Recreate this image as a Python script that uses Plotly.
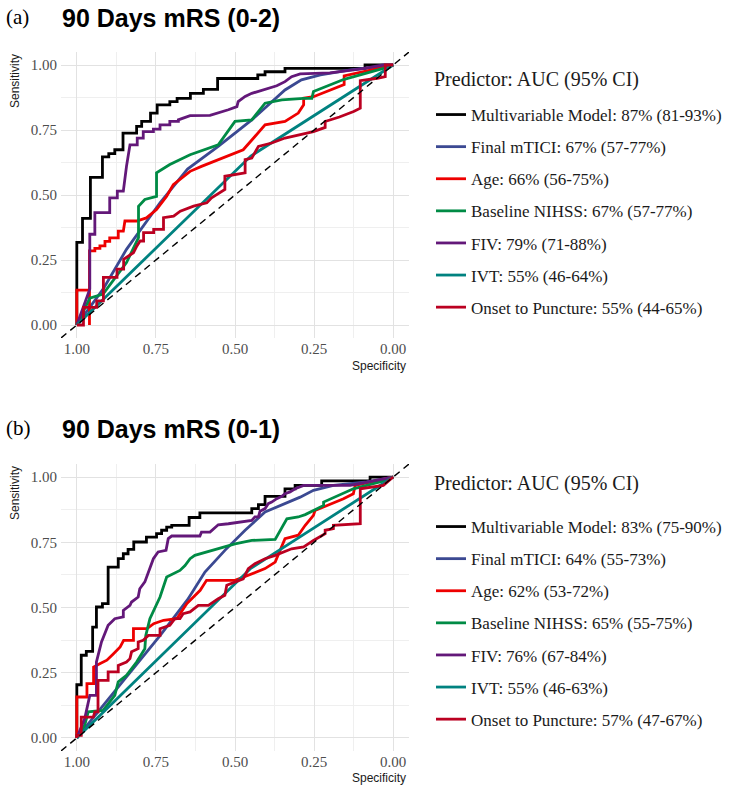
import plotly.graph_objects as go

# Predictors and legend labels
predictors = ["Multivariable Model", "Final mTICI", "Age", "Baseline NIHSS", "FIV", "IVT", "Onset to Puncture"]
a_auc_labels = ["87% (81-93%)", "67% (57-77%)", "66% (56-75%)", "67% (57-77%)", "79% (71-88%)", "55% (46-64%)", "55% (44-65%)"]
b_auc_labels = ["83% (75-90%)", "64% (55-73%)", "62% (53-72%)", "65% (55-75%)", "76% (67-84%)", "55% (46-63%)", "57% (47-67%)"]
colors = ["#000000", "#3B4992", "#EE0000", "#008B45", "#631879", "#008280", "#BB0021"]
line_shapes = ["vh", "linear", "linear", "linear", "linear", "linear", "linear"]

tick_vals = [0, 0.25, 0.5, 0.75, 1]
tick_text = ["0.00", "0.25", "0.50", "0.75", "1.00"]

# ---- (a) 90 Days mRS (0-2): specificity / sensitivity ----
a_model_spec = [1.0, 0.982, 0.957, 0.919, 0.899, 0.880, 0.854, 0.811, 0.795, 0.767, 0.746, 0.706, 0.683, 0.641, 0.600, 0.555, 0.428, 0.405, 0.342, 0.089, 0.0]
a_model_sens = [0.0, 0.318, 0.410, 0.568, 0.647, 0.659, 0.674, 0.738, 0.764, 0.783, 0.815, 0.847, 0.859, 0.872, 0.891, 0.906, 0.948, 0.962, 0.974, 0.987, 1.0]

a_tici_spec = [1.0, 0.917, 0.843, 0.737, 0.650, 0.553, 0.447, 0.342, 0.290, 0.230, 0.135, 0.051, 0.0]
a_tici_sens = [0.0, 0.138, 0.291, 0.470, 0.600, 0.687, 0.789, 0.904, 0.943, 0.962, 0.981, 0.994, 1.0]

a_age_spec = [1.0, 1.0, 0.960, 0.960, 0.960, 0.943, 0.943, 0.927, 0.927, 0.911, 0.911, 0.896, 0.896, 0.869, 0.869, 0.853, 0.848, 0.811, 0.780, 0.748, 0.716, 0.695, 0.669, 0.642, 0.606, 0.553, 0.474, 0.437, 0.405, 0.342, 0.300, 0.283, 0.283, 0.252, 0.155, 0.155, 0.050, 0.0]
a_age_sens = [0.0, 0.134, 0.134, 0.0, 0.285, 0.285, 0.295, 0.295, 0.304, 0.304, 0.322, 0.322, 0.335, 0.335, 0.361, 0.361, 0.400, 0.400, 0.412, 0.444, 0.495, 0.540, 0.566, 0.591, 0.610, 0.636, 0.674, 0.725, 0.770, 0.783, 0.815, 0.847, 0.872, 0.878, 0.925, 0.958, 0.985, 1.0]

a_nihss_spec = [1.0, 0.980, 0.959, 0.917, 0.890, 0.843, 0.805, 0.805, 0.785, 0.748, 0.748, 0.706, 0.642, 0.553, 0.500, 0.447, 0.405, 0.352, 0.283, 0.257, 0.252, 0.155, 0.031, 0.0]
a_nihss_sens = [0.0, 0.049, 0.103, 0.119, 0.163, 0.240, 0.336, 0.457, 0.483, 0.495, 0.585, 0.617, 0.655, 0.693, 0.783, 0.789, 0.853, 0.866, 0.872, 0.872, 0.898, 0.945, 0.987, 1.0]

a_fiv_spec = [1.0, 0.959, 0.959, 0.943, 0.943, 0.896, 0.896, 0.872, 0.872, 0.853, 0.843, 0.832, 0.809, 0.809, 0.790, 0.790, 0.758, 0.758, 0.737, 0.737, 0.706, 0.706, 0.679, 0.679, 0.642, 0.579, 0.521, 0.494, 0.490, 0.468, 0.447, 0.426, 0.395, 0.368, 0.342, 0.321, 0.294, 0.200, 0.100, 0.032, 0.0]
a_fiv_sens = [0.0, 0.138, 0.349, 0.349, 0.432, 0.432, 0.489, 0.489, 0.515, 0.515, 0.610, 0.693, 0.693, 0.719, 0.719, 0.744, 0.744, 0.753, 0.753, 0.770, 0.770, 0.783, 0.783, 0.789, 0.805, 0.806, 0.828, 0.840, 0.859, 0.879, 0.891, 0.898, 0.910, 0.920, 0.936, 0.955, 0.966, 0.970, 0.985, 1.0, 1.0]

a_ivt_spec = [1.0, 0.45, 0.0]
a_ivt_sens = [0.0, 0.65, 1.0]

a_onset_spec = [1.0, 0.979, 0.979, 0.937, 0.937, 0.916, 0.916, 0.873, 0.873, 0.852, 0.852, 0.821, 0.810, 0.800, 0.789, 0.789, 0.757, 0.757, 0.726, 0.726, 0.694, 0.673, 0.631, 0.589, 0.574, 0.532, 0.532, 0.500, 0.468, 0.468, 0.447, 0.426, 0.384, 0.342, 0.294, 0.252, 0.215, 0.215, 0.170, 0.125, 0.104, 0.104, 0.050, 0.025, 0.025, 0.0]
a_onset_sens = [0.0, 0.0, 0.068, 0.068, 0.093, 0.093, 0.183, 0.183, 0.215, 0.215, 0.253, 0.278, 0.304, 0.323, 0.323, 0.355, 0.355, 0.368, 0.368, 0.413, 0.419, 0.438, 0.457, 0.470, 0.489, 0.521, 0.572, 0.579, 0.585, 0.636, 0.642, 0.687, 0.700, 0.719, 0.732, 0.744, 0.760, 0.783, 0.800, 0.821, 0.834, 0.940, 0.949, 0.955, 1.0, 1.0]

# ---- (b) 90 Days mRS (0-1) ----
b_model_spec = [1.0, 0.986, 0.970, 0.950, 0.938, 0.919, 0.901, 0.869, 0.853, 0.838, 0.820, 0.780, 0.748, 0.732, 0.716, 0.700, 0.645, 0.611, 0.447, 0.426, 0.405, 0.342, 0.310, 0.226, 0.073, 0.0]
b_model_sens = [0.0, 0.204, 0.317, 0.332, 0.425, 0.502, 0.515, 0.655, 0.687, 0.706, 0.723, 0.751, 0.770, 0.783, 0.796, 0.808, 0.815, 0.845, 0.863, 0.879, 0.894, 0.926, 0.955, 0.968, 0.985, 1.0]

b_tici_spec = [1.0, 0.843, 0.737, 0.650, 0.595, 0.532, 0.468, 0.405, 0.294, 0.252, 0.189, 0.083, 0.0]
b_tici_sens = [0.0, 0.236, 0.392, 0.530, 0.636, 0.719, 0.796, 0.866, 0.923, 0.949, 0.968, 0.981, 1.0]

b_age_spec = [1.0, 1.0, 0.968, 0.968, 0.947, 0.947, 0.926, 0.905, 0.884, 0.863, 0.852, 0.821, 0.821, 0.778, 0.757, 0.726, 0.684, 0.652, 0.610, 0.590, 0.500, 0.474, 0.447, 0.405, 0.373, 0.342, 0.300, 0.278, 0.252, 0.247, 0.157, 0.126, 0.120, 0.030, 0.0]
b_age_sens = [0.0, 0.157, 0.157, 0.208, 0.208, 0.272, 0.285, 0.298, 0.323, 0.349, 0.374, 0.374, 0.419, 0.419, 0.438, 0.451, 0.457, 0.515, 0.566, 0.604, 0.604, 0.617, 0.630, 0.649, 0.674, 0.764, 0.777, 0.815, 0.853, 0.872, 0.917, 0.936, 0.968, 0.993, 1.0]

b_nihss_spec = [1.0, 0.975, 0.964, 0.917, 0.880, 0.869, 0.843, 0.811, 0.785, 0.782, 0.769, 0.748, 0.737, 0.716, 0.674, 0.658, 0.642, 0.627, 0.553, 0.500, 0.447, 0.373, 0.336, 0.300, 0.278, 0.220, 0.220, 0.126, 0.030, 0.0]
b_nihss_sens = [0.0, 0.049, 0.100, 0.106, 0.163, 0.215, 0.240, 0.291, 0.342, 0.393, 0.457, 0.508, 0.540, 0.617, 0.642, 0.661, 0.687, 0.700, 0.725, 0.744, 0.757, 0.761, 0.840, 0.847, 0.856, 0.891, 0.904, 0.955, 0.985, 1.0]

b_fiv_spec = [1.0, 0.975, 0.959, 0.938, 0.938, 0.922, 0.901, 0.880, 0.853, 0.853, 0.832, 0.827, 0.806, 0.801, 0.785, 0.774, 0.764, 0.758, 0.743, 0.718, 0.711, 0.700, 0.611, 0.606, 0.579, 0.553, 0.521, 0.479, 0.447, 0.437, 0.426, 0.421, 0.405, 0.395, 0.384, 0.368, 0.352, 0.342, 0.326, 0.310, 0.283, 0.136, 0.060, 0.0]
b_fiv_sens = [0.0, 0.074, 0.163, 0.163, 0.291, 0.368, 0.432, 0.457, 0.464, 0.489, 0.508, 0.521, 0.540, 0.572, 0.598, 0.636, 0.668, 0.687, 0.713, 0.719, 0.764, 0.774, 0.774, 0.789, 0.789, 0.817, 0.821, 0.828, 0.834, 0.847, 0.847, 0.869, 0.879, 0.898, 0.904, 0.917, 0.926, 0.936, 0.943, 0.955, 0.968, 0.968, 0.985, 1.0]

b_ivt_spec = [1.0, 0.45, 0.0]
b_ivt_sens = [0.0, 0.65, 1.0]

b_onset_spec = [1.0, 1.0, 0.986, 0.986, 0.948, 0.943, 0.933, 0.933, 0.901, 0.901, 0.869, 0.869, 0.843, 0.832, 0.827, 0.806, 0.806, 0.790, 0.774, 0.737, 0.737, 0.706, 0.690, 0.674, 0.664, 0.642, 0.616, 0.584, 0.553, 0.532, 0.526, 0.474, 0.458, 0.437, 0.405, 0.373, 0.321, 0.283, 0.252, 0.215, 0.215, 0.189, 0.189, 0.104, 0.104, 0.031, 0.0]
b_onset_sens = [0.0, 0.010, 0.010, 0.080, 0.080, 0.100, 0.100, 0.221, 0.221, 0.253, 0.253, 0.278, 0.291, 0.304, 0.330, 0.342, 0.368, 0.374, 0.393, 0.393, 0.419, 0.432, 0.457, 0.457, 0.476, 0.483, 0.508, 0.508, 0.534, 0.547, 0.585, 0.610, 0.649, 0.668, 0.687, 0.700, 0.725, 0.732, 0.757, 0.783, 0.796, 0.802, 0.815, 0.821, 0.955, 0.968, 1.0]

# chance line (sensitivity = 1 - specificity) across the padded panel
diag_spec = [1.05, -0.05]
diag_sens = [-0.05, 1.05]

a_curves = [(a_model_spec, a_model_sens), (a_tici_spec, a_tici_sens), (a_age_spec, a_age_sens),
            (a_nihss_spec, a_nihss_sens), (a_fiv_spec, a_fiv_sens), (a_ivt_spec, a_ivt_sens),
            (a_onset_spec, a_onset_sens)]
b_curves = [(b_model_spec, b_model_sens), (b_tici_spec, b_tici_sens), (b_age_spec, b_age_sens),
            (b_nihss_spec, b_nihss_sens), (b_fiv_spec, b_fiv_sens), (b_ivt_spec, b_ivt_sens),
            (b_onset_spec, b_onset_sens)]

W, H = 744, 792


def px_x(p):
    return p / W


def px_y(p):
    return 1 - p / H


fig = go.Figure()

panels = [
    ("x", "y", "legend", a_curves, a_auc_labels),
    ("x2", "y2", "legend2", b_curves, b_auc_labels),
]

for xa, ya, leg, curves, aucs in panels:
    for i, (spec, sens) in enumerate(curves):
        fig.add_trace(go.Scatter(
            x=spec, y=sens, mode="lines",
            line=dict(color=colors[i], width=2.8, shape=line_shapes[i]),
            name=f"{predictors[i]}: {aucs[i]}",
            legendgroup=f"{leg}_{i}",
            legend=leg, xaxis=xa, yaxis=ya,
        ))
    fig.add_trace(go.Scatter(
        x=diag_spec, y=diag_sens, mode="lines",
        line=dict(color="black", width=1.4, dash="7px,5px"),
        showlegend=False, xaxis=xa, yaxis=ya, hoverinfo="skip",
    ))

tick_font = dict(family="Liberation Serif", size=15, color="#4D4D4D")


def x_axis(anchor):
    return dict(
        domain=[px_x(61), px_x(409)], anchor=anchor,
        range=[1.05, -0.05], tickmode="array", tickvals=tick_vals, ticktext=tick_text,
        showgrid=True, gridcolor="#E2E2E2", gridwidth=1, zeroline=False,
        showline=False, ticks="", tickfont=tick_font,
        minor=dict(tickvals=[0.125, 0.375, 0.625, 0.875], showgrid=True, gridcolor="#EFEFEF", gridwidth=1),
    )


def y_axis(anchor, top, bottom):
    return dict(
        domain=[px_y(bottom), px_y(top)], anchor=anchor,
        range=[-0.05, 1.05], tickmode="array", tickvals=tick_vals, ticktext=tick_text,
        showgrid=True, gridcolor="#E2E2E2", gridwidth=1, zeroline=False,
        showline=False, ticks="", tickfont=tick_font, ticklabelstandoff=3,
        minor=dict(tickvals=[0.125, 0.375, 0.625, 0.875], showgrid=True, gridcolor="#EFEFEF", gridwidth=1),
    )


legend_font = dict(family="Liberation Serif", size=17, color="#1A1A1A")


def legend_box(top):
    return dict(
        x=px_x(431), xanchor="left", y=px_y(top), yanchor="top",
        font=legend_font, traceorder="grouped", tracegroupgap=7,
        bgcolor="rgba(0,0,0,0)", borderwidth=0,
    )


annotations = []
for label, title, title_y, leg_title_y, sens_y, spec_y in [
    ("(a)", "90 Days mRS (0-2)", 17, 80, 81, 366),
    ("(b)", "90 Days mRS (0-1)", 428, 483, 493, 778),
]:
    annotations += [
        dict(text=label, x=px_x(4), y=px_y(title_y), xanchor="left", yanchor="middle",
             font=dict(family="Liberation Serif", size=21, color="black")),
        dict(text=f"<b>{title}</b>", x=px_x(60), y=px_y(title_y + 1), xanchor="left", yanchor="middle",
             font=dict(family="Liberation Sans", size=25, color="black")),
        dict(text="Predictor: AUC (95% CI)", x=px_x(432), y=px_y(leg_title_y), xanchor="left", yanchor="middle",
             font=dict(family="Liberation Serif", size=20, color="#1A1A1A")),
        dict(text="Sensitivity", x=px_x(15), y=px_y(sens_y), xanchor="center", yanchor="middle",
             textangle=-90, font=dict(family="Liberation Sans", size=12, color="#1A1A1A")),
        dict(text="Specificity", x=px_x(408), y=px_y(spec_y), xanchor="right", yanchor="middle",
             font=dict(family="Liberation Sans", size=12, color="#1A1A1A")),
    ]
for a in annotations:
    a.update(xref="paper", yref="paper", showarrow=False)

fig.update_layout(
    width=W, height=H,
    margin=dict(l=0, r=0, t=0, b=0),
    paper_bgcolor="white", plot_bgcolor="white",
    xaxis=x_axis("y"), yaxis=y_axis("x", 52, 338),
    xaxis2=x_axis("y2"), yaxis2=y_axis("x2", 464, 751),
    legend=legend_box(97),
    legend2=legend_box(509),
    annotations=annotations,
    showlegend=True,
)

# drop the default page margin so the figure sits at the window's corner
fig.write_html("out.html", config={"displayModeBar": False},
               post_script="document.body.style.margin='0';")
